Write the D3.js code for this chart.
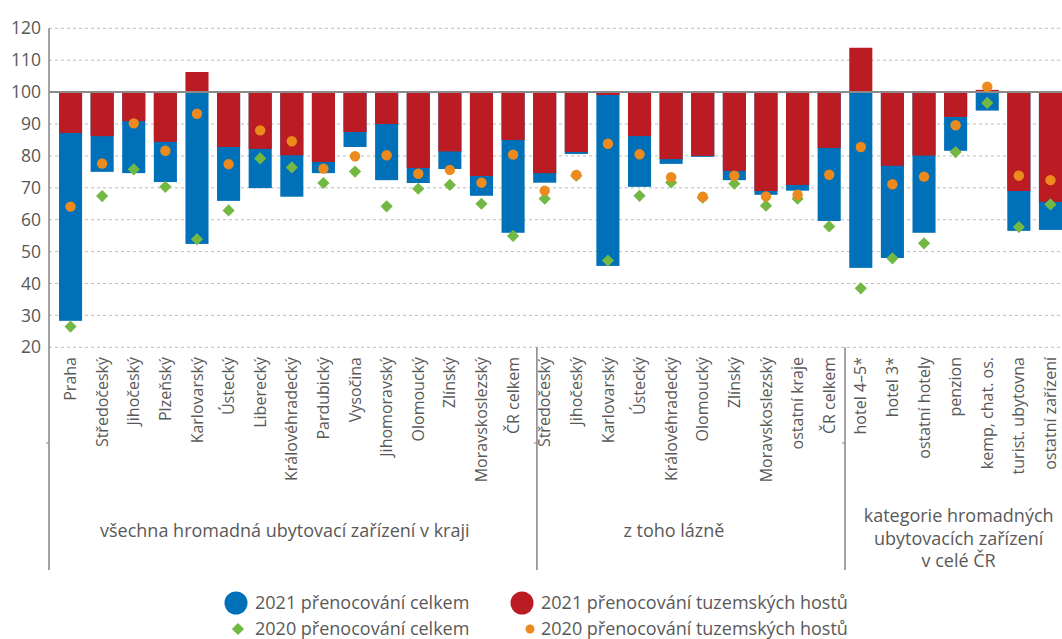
<!DOCTYPE html>
<html>
<head>
<meta charset="utf-8">
<script src="https://cdn.jsdelivr.net/npm/d3@7"></script>
<style>
  body { margin: 0; background: #fff; }
  text { font-family: "Open Sans", sans-serif; fill: #595959; }
</style>
</head>
<body>
<svg id="chart" width="1062" height="639"></svg>
<script>
// category labels, three groups one after another
const categories = [
  "Praha", "Středočeský", "Jihočeský", "Plzeňský", "Karlovarský", "Ústecký", "Liberecký",
  "Královéhradecký", "Pardubický", "Vysočina", "Jihomoravský", "Olomoucký", "Zlínský",
  "Moravskoslezský", "ČR celkem",
  "Středočeský", "Jihočeský", "Karlovarský", "Ústecký", "Královéhradecký", "Olomoucký",
  "Zlínský", "Moravskoslezský", "ostatní kraje", "ČR celkem",
  "hotel 4–5*", "hotel 3*", "ostatní hotely", "penzion", "kemp, chat. os.",
  "turist. ubytovna", "ostatní zařízení"
];
const groupSizes = [15, 10, 7];
const groupLabels = [
  ["všechna hromadná ubytovací zařízení v kraji"],
  ["z toho lázně"],
  ["kategorie hromadných", "ubytovacích zařízení", "v celé ČR"]
];

const total2021 = [28.3, 75.0, 74.6, 71.8, 52.4, 65.9, 69.9, 67.2, 74.6, 82.8, 72.4, 71.5, 75.9, 67.5, 55.9,
  71.6, 80.6, 45.5, 70.3, 77.5, 79.7, 72.4, 67.8, 69.1, 59.6,
  44.9, 48.0, 55.9, 81.6, 94.2, 56.5, 56.8];
const domestic2021 = [87.2, 86.2, 90.9, 84.4, 106.3, 82.8, 82.2, 80.2, 78.1, 87.5, 90.0, 76.2, 81.4, 73.7, 85.0,
  74.6, 81.2, 99.1, 86.2, 79.0, 80.0, 75.3, 69.0, 70.9, 82.5,
  113.9, 76.9, 80.1, 92.2, 100.7, 69.0, 65.6];
const total2020 = [26.5, 67.4, 75.8, 70.3, 53.9, 62.9, 79.2, 76.4, 71.5, 75.1, 64.2, 69.7, 70.9, 65.0, 54.9,
  66.6, 73.8, 47.2, 67.5, 71.7, 66.9, 71.3, 64.4, 66.6, 57.9,
  38.5, 47.9, 52.6, 81.2, 96.6, 57.7, 64.8];
const domestic2020 = [64.1, 77.6, 90.2, 81.6, 93.2, 77.4, 88.0, 84.6, 76.0, 79.9, 80.2, 74.4, 75.6, 71.6, 80.4,
  69.1, 74.0, 83.8, 80.5, 73.3, 67.2, 73.8, 67.3, 67.8, 74.1,
  82.8, 71.1, 73.5, 89.6, 101.7, 73.8, 72.4];

const yTicks = [20, 30, 40, 50, 60, 70, 80, 90, 100, 110, 120];
const legendItems = [
  "2021 přenocování celkem", "2021 přenocování tuzemských hostů",
  "2020 přenocování celkem", "2020 přenocování tuzemských hostů"
];

const blue = "#0070b8", red = "#bb1b22", green = "#72b843", orange = "#ec8a1e";

const svg = d3.select("#chart");
const plotLeft = 49, plotRight = 1062, plotTop = 28.3, plotBottom = 347.3;

const x = d3.scaleBand()
  .domain(d3.range(categories.length))
  .range([59, plotRight])
  .paddingInner(0.27)
  .paddingOuter(0);

const y = d3.scaleLinear()
  .domain([20, 120])
  .range([plotBottom, plotTop]);

// gridlines
svg.append("g")
  .selectAll("line")
  .data(yTicks)
  .join("line")
  .attr("x1", plotLeft).attr("x2", plotRight)
  .attr("y1", d => y(d)).attr("y2", d => y(d))
  .attr("stroke", "#bdbdbd")
  .attr("stroke-width", 1)
  .attr("stroke-dasharray", "3,3");

// y axis
const yAxis = d3.axisLeft(y).tickValues(yTicks).tickSize(0).tickPadding(8);
const yg = svg.append("g").attr("transform", `translate(${plotLeft},0)`).call(yAxis);
yg.select(".domain").remove();
yg.selectAll("text").style("font-size", "17.5px").style("font-family", "Open Sans").attr("fill", "#595959");

svg.append("line")
  .attr("x1", plotLeft).attr("x2", plotLeft)
  .attr("y1", plotTop).attr("y2", 570)
  .attr("stroke", "#858585").attr("stroke-width", 1.5);

const idx = d3.range(categories.length);

// 2021 total (blue) behind, 2021 domestic (red) on top
svg.append("g").selectAll("rect")
  .data(idx)
  .join("rect")
  .attr("x", i => x(i))
  .attr("width", x.bandwidth())
  .attr("y", i => Math.min(y(100), y(total2021[i])))
  .attr("height", i => Math.abs(y(100) - y(total2021[i])))
  .attr("fill", blue);

svg.append("g").selectAll("rect")
  .data(idx)
  .join("rect")
  .attr("x", i => x(i))
  .attr("width", x.bandwidth())
  .attr("y", i => Math.min(y(100), y(domestic2021[i])))
  .attr("height", i => Math.abs(y(100) - y(domestic2021[i])))
  .attr("fill", red);

// 100 reference line
svg.append("line")
  .attr("x1", plotLeft).attr("x2", plotRight)
  .attr("y1", y(100)).attr("y2", y(100))
  .attr("stroke", "#8a8a8a").attr("stroke-width", 2);

// 2020 markers
const diamond = d3.symbol().type(d3.symbolDiamond2).size(95);
svg.append("g").selectAll("path")
  .data(idx)
  .join("path")
  .attr("d", diamond)
  .attr("transform", i => `translate(${x(i) + x.bandwidth() / 2},${y(total2020[i])})`)
  .attr("fill", green);

svg.append("g").selectAll("circle")
  .data(idx)
  .join("circle")
  .attr("cx", i => x(i) + x.bandwidth() / 2)
  .attr("cy", i => y(domestic2020[i]))
  .attr("r", 5.2)
  .attr("fill", orange);

// category labels
svg.append("g").selectAll("text")
  .data(idx)
  .join("text")
  .attr("transform", i => `translate(${x(i) + x.bandwidth() / 2},357) rotate(-90)`)
  .attr("text-anchor", "end")
  .attr("dy", "0.35em")
  .style("font-size", "16px")
  .text(i => categories[i]);

// group separators and group labels
const starts = [0];
groupSizes.forEach(n => starts.push(starts[starts.length - 1] + n));
const sepNudge = [8, 0];
const sepX = starts.slice(1, -1).map((s, k) => (x(s - 1) + x.bandwidth() + x(s)) / 2 + sepNudge[k]);
sepX.forEach(sx => {
  svg.append("line")
    .attr("x1", sx).attr("x2", sx)
    .attr("y1", plotBottom).attr("y2", 570)
    .attr("stroke", "#858585").attr("stroke-width", 1.5);
});
[plotLeft, ...sepX].forEach(sx => {
  svg.append("line")
    .attr("x1", sx - 3).attr("x2", sx)
    .attr("y1", 443).attr("y2", 443)
    .attr("stroke", "#858585").attr("stroke-width", 1);
});

const labelNudge = [-7, -13, 3];
groupLabels.forEach((lines, g) => {
  const a = x(starts[g]), b = x(starts[g + 1] - 1) + x.bandwidth();
  const cx = (a + b) / 2 + labelNudge[g];
  const y0 = lines.length > 1 ? 522 : 537;
  const t = svg.append("text")
    .attr("x", cx).attr("y", y0)
    .attr("text-anchor", "middle")
    .style("font-size", "18px");
  lines.forEach((ln, j) => {
    t.append("tspan").attr("x", cx).attr("dy", j === 0 ? 0 : 22.5).text(ln);
  });
});

// legend
const legendPos = [[236, 603], [522, 603], [238, 629], [530, 629]];
const lg = svg.append("g");
lg.append("circle").attr("cx", legendPos[0][0]).attr("cy", legendPos[0][1]).attr("r", 11.5).attr("fill", blue);
lg.append("circle").attr("cx", legendPos[1][0]).attr("cy", legendPos[1][1]).attr("r", 11.5).attr("fill", red);
lg.append("path").attr("d", d3.symbol().type(d3.symbolDiamond2).size(95))
  .attr("transform", `translate(${legendPos[2][0]},${legendPos[2][1]})`).attr("fill", green);
lg.append("circle").attr("cx", legendPos[3][0]).attr("cy", legendPos[3][1]).attr("r", 4.5).attr("fill", orange);
legendItems.forEach((t, k) => {
  lg.append("text")
    .attr("x", k % 2 === 0 ? 255 : 541)
    .attr("y", legendPos[k][1])
    .attr("dy", "0.35em")
    .style("font-size", "18px")
    .text(t);
});
</script>
</body>
</html>
